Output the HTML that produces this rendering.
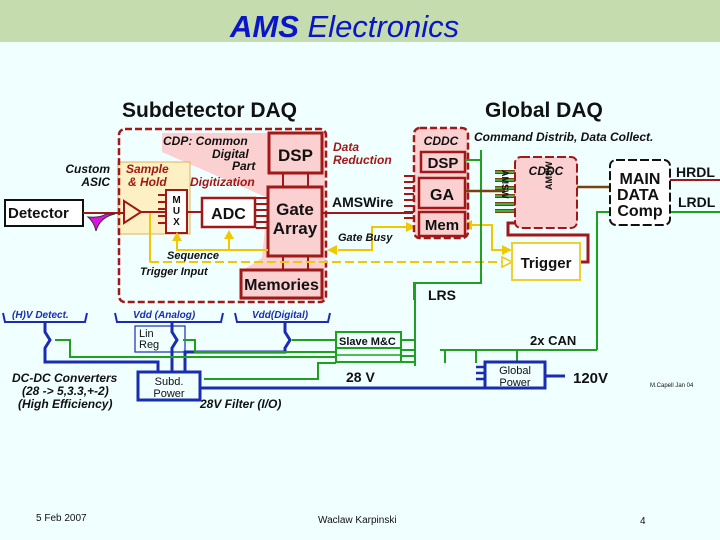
<!DOCTYPE html>
<html><head><meta charset="utf-8"><style>
html,body{margin:0;padding:0;background:#f0ffff;}
svg{display:block;}
text{font-family:"Liberation Sans",sans-serif;}
</style></head><body>
<svg width="720" height="540" viewBox="0 0 720 540" xmlns="http://www.w3.org/2000/svg">
<rect x="0" y="0" width="720" height="540" fill="#f0ffff"/>
<rect x="0" y="0" width="720" height="42" fill="#c4dcae"/>
<text x="230" y="37" font-size="31" fill="#0a14c8" font-style="italic"><tspan font-weight="bold">AMS</tspan> Electronics</text>

<text x="122" y="117" font-size="21" font-weight="bold" fill="#111">Subdetector DAQ</text>
<text x="485" y="117" font-size="21" font-weight="bold" fill="#111">Global DAQ</text>

<polygon points="162,133 325,133 325,300 240,300 240,272 262,258 268,198 162,152" fill="#fad0d0"/>
<rect x="118" y="162" width="72" height="72" fill="#fdf0c4" stroke="#e0b060" stroke-width="1"/>
<rect x="119" y="129" width="207" height="173" rx="6" fill="none" stroke="#a01818" stroke-width="2.5" stroke-dasharray="7,3"/>

<text x="163" y="145" font-size="12" font-style="italic" font-weight="bold" fill="#111">CDP: Common</text>
<text x="212" y="158" font-size="12" font-style="italic" font-weight="bold" fill="#111">Digital</text>
<text x="232" y="170" font-size="12" font-style="italic" font-weight="bold" fill="#111">Part</text>
<text x="110" y="173" font-size="12" font-style="italic" font-weight="bold" fill="#111" text-anchor="end">Custom</text>
<text x="110" y="186" font-size="12" font-style="italic" font-weight="bold" fill="#111" text-anchor="end">ASIC</text>
<text x="126" y="173" font-size="12" font-style="italic" font-weight="bold" fill="#a01818">Sample</text>
<text x="128" y="186" font-size="12" font-style="italic" font-weight="bold" fill="#a01818">&amp; Hold</text>
<text x="190" y="186" font-size="12" font-style="italic" font-weight="bold" fill="#a01818">Digitization</text>

<rect x="5" y="200" width="78" height="26" fill="#fff" stroke="#111" stroke-width="2"/>
<text x="8" y="218" font-size="15" font-weight="bold" fill="#111">Detector</text>
<line x1="83" y1="213" x2="124" y2="213" stroke="#a01818" stroke-width="2"/>
<path d="M88,217 Q100,218 106,214 L115,214 Q100,217 96,231 Q94,222 88,217Z" fill="#e010e0" stroke="#333" stroke-width="1"/>
<polygon points="124,201 124,223 141,212" fill="none" stroke="#a01818" stroke-width="2"/>
<line x1="141" y1="212" x2="166" y2="212" stroke="#a01818" stroke-width="2"/>
<g stroke="#a01818" stroke-width="2"><line x1="158" y1="195" x2="166" y2="195"/><line x1="158" y1="202" x2="166" y2="202"/><line x1="158" y1="209" x2="166" y2="209"/><line x1="158" y1="216" x2="166" y2="216"/><line x1="158" y1="223" x2="166" y2="223"/></g>
<rect x="166" y="190" width="21" height="43" fill="#fff" stroke="#a01818" stroke-width="2"/>
<text x="176.5" y="203" font-size="10" font-weight="bold" text-anchor="middle" fill="#111">M</text>
<text x="176.5" y="214" font-size="10" font-weight="bold" text-anchor="middle" fill="#111">U</text>
<text x="176.5" y="225" font-size="10" font-weight="bold" text-anchor="middle" fill="#111">X</text>
<line x1="187" y1="212" x2="202" y2="212" stroke="#a01818" stroke-width="2"/>
<rect x="202" y="198" width="53" height="29" fill="#fff" stroke="#a01818" stroke-width="2.5"/>
<text x="228.5" y="219" font-size="16" font-weight="bold" text-anchor="middle" fill="#111">ADC</text>
<g stroke="#a01818" stroke-width="2"><line x1="256" y1="198" x2="268" y2="198"/><line x1="256" y1="204" x2="268" y2="204"/><line x1="256" y1="210" x2="268" y2="210"/><line x1="256" y1="216" x2="268" y2="216"/><line x1="256" y1="222" x2="268" y2="222"/><line x1="256" y1="228" x2="268" y2="228"/></g>
<line x1="283" y1="173" x2="283" y2="187" stroke="#a01818" stroke-width="2"/>
<line x1="308" y1="173" x2="308" y2="187" stroke="#a01818" stroke-width="2"/>
<line x1="283" y1="256" x2="283" y2="270" stroke="#a01818" stroke-width="2"/>
<line x1="308" y1="256" x2="308" y2="270" stroke="#a01818" stroke-width="2"/>
<rect x="269" y="133" width="53" height="40" fill="#fad0d0" stroke="#a01818" stroke-width="3"/>
<text x="295.5" y="161" font-size="17" font-weight="bold" text-anchor="middle" fill="#111">DSP</text>
<rect x="268" y="187" width="54" height="69" fill="#fad0d0" stroke="#a01818" stroke-width="3"/>
<text x="295" y="215" font-size="17" font-weight="bold" text-anchor="middle" fill="#111">Gate</text>
<text x="295" y="234" font-size="17" font-weight="bold" text-anchor="middle" fill="#111">Array</text>
<rect x="241" y="270" width="81" height="28" fill="#fad0d0" stroke="#a01818" stroke-width="3"/>
<text x="281.5" y="290" font-size="16" font-weight="bold" text-anchor="middle" fill="#111">Memories</text>

<g stroke="#f0c800" stroke-width="2" fill="none">
<polyline points="268,250 177,250 177,236"/>
<line x1="229" y1="250" x2="229" y2="234"/>
<line x1="150" y1="213" x2="150" y2="262"/>
<line x1="150" y1="262" x2="505" y2="262" stroke-dasharray="9,4"/>
<polyline points="338,250 372,250 372,227 410,227"/>
<polyline points="468,225 492,225 492,250 510,250"/>
</g>
<g fill="#f0c800">
<polygon points="177,232 172,241 182,241"/>
<polygon points="229,230 224,239 234,239"/>
<polygon points="327,250 337,245 337,255"/>
<polygon points="416,227 406,222 406,232"/>
<polygon points="462,225 472,220 472,230"/>
<polygon points="512,250 502,245 502,255"/>
</g>
<polygon points="512,262 502,257 502,267" fill="#fff" stroke="#f0c800" stroke-width="1.5"/>
<text x="167" y="259" font-size="11" font-style="italic" font-weight="bold" fill="#111">Sequence</text>
<text x="140" y="275" font-size="11" font-style="italic" font-weight="bold" fill="#111">Trigger Input</text>
<text x="338" y="241" font-size="11" font-style="italic" font-weight="bold" fill="#111">Gate  Busy</text>

<line x1="322" y1="213" x2="413" y2="213" stroke="#a01818" stroke-width="2"/>
<text x="332" y="207" font-size="14" font-weight="bold" fill="#111">AMSWire</text>
<text x="333" y="151" font-size="12" font-style="italic" font-weight="bold" fill="#a01818">Data</text>
<text x="333" y="164" font-size="12" font-style="italic" font-weight="bold" fill="#a01818">Reduction</text>
<g stroke="#a01818" stroke-width="2"><line x1="404" y1="176" x2="416" y2="176"/><line x1="404" y1="182" x2="416" y2="182"/><line x1="404" y1="188" x2="416" y2="188"/><line x1="404" y1="194" x2="416" y2="194"/><line x1="404" y1="200" x2="416" y2="200"/><line x1="404" y1="206" x2="416" y2="206"/><line x1="404" y1="212" x2="416" y2="212"/><line x1="404" y1="218" x2="416" y2="218"/></g>

<rect x="414" y="128" width="54" height="110" rx="6" fill="#fad0d0" stroke="#a01818" stroke-width="2.5" stroke-dasharray="7,3"/>
<text x="441" y="145" font-size="12" font-style="italic" font-weight="bold" text-anchor="middle" fill="#111">CDDC</text>
<rect x="421" y="152" width="44" height="20" fill="#fad0d0" stroke="#a01818" stroke-width="2.5"/>
<text x="443" y="168" font-size="15" font-weight="bold" text-anchor="middle" fill="#111">DSP</text>
<rect x="419" y="178" width="46" height="30" fill="#fad0d0" stroke="#a01818" stroke-width="2.5"/>
<text x="442" y="200" font-size="16" font-weight="bold" text-anchor="middle" fill="#111">GA</text>
<rect x="419" y="212" width="46" height="24" fill="#fad0d0" stroke="#a01818" stroke-width="2.5"/>
<text x="442" y="230" font-size="15" font-weight="bold" text-anchor="middle" fill="#111">Mem</text>
<text x="474" y="141" font-size="12" font-style="italic" font-weight="bold" fill="#111">Command Distrib, Data Collect.</text>

<g stroke="#20a020" stroke-width="2" fill="none">
<polyline points="465,160 481,160"/>
<polyline points="481,150 481,283 414,283 414,300"/>
<polyline points="670,212 720,212"/>
<polyline points="610,212 597,212 597,350"/>
<polyline points="597,350 440,350"/>
<line x1="445" y1="350" x2="445" y2="363"/><line x1="476" y1="350" x2="476" y2="363"/><line x1="517" y1="350" x2="517" y2="362"/>
</g>
<text x="428" y="300" font-size="14" font-weight="bold" fill="#111">LRS</text>
<text x="530" y="345" font-size="13" font-weight="bold" fill="#111">2x CAN</text>

<line x1="465" y1="191" x2="505" y2="191" stroke="#7a4010" stroke-width="2.5"/>
<g stroke="#7a4010" stroke-width="4"><line x1="495" y1="172" x2="517" y2="172"/><line x1="495" y1="180" x2="517" y2="180"/><line x1="495" y1="188" x2="517" y2="188"/><line x1="495" y1="196" x2="517" y2="196"/><line x1="495" y1="204" x2="517" y2="204"/><line x1="495" y1="211" x2="517" y2="211"/></g>
<g stroke="#40b040" stroke-width="2"><line x1="495" y1="172" x2="517" y2="172"/><line x1="495" y1="180" x2="517" y2="180"/><line x1="495" y1="188" x2="517" y2="188"/><line x1="495" y1="196" x2="517" y2="196"/><line x1="495" y1="204" x2="517" y2="204"/><line x1="495" y1="211" x2="517" y2="211"/></g>
<rect x="515" y="157" width="62" height="71" rx="6" fill="#fad0d0" stroke="#a01818" stroke-width="2" stroke-dasharray="9,3"/>
<text x="546" y="175" font-size="12" font-style="italic" font-weight="bold" text-anchor="middle" fill="#111">CDDC</text>
<text transform="translate(502,170) rotate(90)" font-size="9" font-weight="bold" fill="#111">AMSW</text>
<text transform="translate(552,190) rotate(-90)" font-size="9" font-weight="bold" fill="#111">AMSW</text>
<line x1="577" y1="187" x2="610" y2="187" stroke="#7a4010" stroke-width="2.5"/>
<polyline points="515,223 508,223 508,235 588,235 588,262 580,262" fill="none" stroke="#a01818" stroke-width="3"/>

<rect x="512" y="243" width="68" height="37" fill="#fff" stroke="#f0d030" stroke-width="2"/>
<text x="546" y="268" font-size="15" font-weight="bold" text-anchor="middle" fill="#111">Trigger</text>

<rect x="610" y="160" width="60" height="65" rx="6" fill="#fff" stroke="#111" stroke-width="2" stroke-dasharray="9,3"/>
<text x="640" y="184" font-size="16" font-weight="bold" text-anchor="middle" fill="#111">MAIN</text>
<text x="638" y="200" font-size="16" font-weight="bold" text-anchor="middle" fill="#111">DATA</text>
<text x="640" y="216" font-size="16" font-weight="bold" text-anchor="middle" fill="#111">Comp</text>
<line x1="670" y1="180" x2="720" y2="180" stroke="#a01818" stroke-width="2"/>
<text x="676" y="177" font-size="14" font-weight="bold" fill="#111">HRDL</text>
<text x="678" y="207" font-size="14" font-weight="bold" fill="#111">LRDL</text>

<!-- bottom power section -->
<g stroke="#1a2cb0" stroke-width="2" fill="none">
<path d="M3,313 L5,322 L85,322 L87,313"/>
<path d="M115,313 L117,322 L221,322 L223,313"/>
<path d="M235,313 L237,322 L328,322 L330,313"/>
</g>
<text x="12" y="318" font-size="10" font-style="italic" font-weight="bold" fill="#1a2cb0">(H)V Detect.</text>
<text x="133" y="318" font-size="10" font-style="italic" font-weight="bold" fill="#1a2cb0">Vdd (Analog)</text>
<text x="252" y="318" font-size="10" font-style="italic" font-weight="bold" fill="#1a2cb0">Vdd(Digital)</text>
<g stroke="#1a2cb0" stroke-width="3" fill="none">
<polyline points="45,322 45,332 50,340 45,348 45,362 158,362 158,373"/>
<polyline points="172,322 172,332 177,340 172,348 172,373"/>
<polyline points="285,322 285,332 290,340 285,348 285,352 185,352 185,373"/>
<polyline points="200,388 485,388"/>
<polyline points="545,376 565,376"/>
</g>
<rect x="135" y="326" width="50" height="26" fill="none" stroke="#1a2cb0" stroke-width="1.2"/>
<text x="139" y="337" font-size="11" fill="#111">Lin</text>
<text x="139" y="348" font-size="11" fill="#111">Reg</text>
<g stroke="#20a020" stroke-width="2" fill="none">
<polyline points="55,340 70,340 70,357 336,357"/>
<polyline points="183,340 195,340 195,352 336,352"/>
<polyline points="292,340 336,340"/>
<polyline points="204,379 318,379 318,363 336,363"/>
<line x1="415" y1="283" x2="415" y2="366"/>
<line x1="401" y1="340" x2="415" y2="340"/>
<line x1="401" y1="350" x2="415" y2="350"/>
<line x1="401" y1="356" x2="415" y2="356"/>
<line x1="401" y1="362" x2="415" y2="362"/>
</g>
<rect x="336" y="332" width="65" height="30" fill="#f0ffff" stroke="#20a020" stroke-width="2"/>
<line x1="336" y1="348" x2="401" y2="348" stroke="#20a020" stroke-width="2"/>
<line x1="336" y1="355" x2="401" y2="355" stroke="#20a020" stroke-width="1.5"/>
<text x="339" y="345" font-size="11" font-weight="bold" fill="#111">Slave M&amp;C</text>

<rect x="138" y="372" width="62" height="28" fill="#f0ffff" stroke="#1a2cb0" stroke-width="3"/>
<text x="169" y="385" font-size="11" text-anchor="middle" fill="#111">Subd.</text>
<text x="169" y="397" font-size="11" text-anchor="middle" fill="#111">Power</text>
<text x="346" y="382" font-size="14" font-weight="bold" fill="#111">28 V</text>
<text x="200" y="408" font-size="12" font-style="italic" font-weight="bold" fill="#111">28V Filter (I/O)</text>
<text x="12" y="382" font-size="12" font-style="italic" font-weight="bold" fill="#111">DC-DC Converters</text>
<text x="22" y="395" font-size="12" font-style="italic" font-weight="bold" fill="#111">(28 -&gt; 5,3.3,+-2)</text>
<text x="18" y="408" font-size="12" font-style="italic" font-weight="bold" fill="#111">(High Efficiency)</text>

<g stroke="#1a2cb0" stroke-width="2.5"><line x1="476" y1="367" x2="485" y2="367"/><line x1="476" y1="373" x2="485" y2="373"/><line x1="476" y1="379" x2="485" y2="379"/></g>
<rect x="485" y="362" width="60" height="26" fill="#f0ffff" stroke="#1a2cb0" stroke-width="3"/>
<text x="515" y="374" font-size="11" text-anchor="middle" fill="#111">Global</text>
<text x="515" y="386" font-size="11" text-anchor="middle" fill="#111">Power</text>
<text x="573" y="383" font-size="15" font-weight="bold" fill="#111">120V</text>
<text x="650" y="387" font-size="6" fill="#111">M.Capell Jan 04</text>

<text x="36" y="521" font-size="10" fill="#111">5 Feb 2007</text>
<text x="318" y="523" font-size="10" fill="#111">Waclaw Karpinski</text>
<text x="640" y="524" font-size="10" fill="#111">4</text>
</svg>
</body></html>
